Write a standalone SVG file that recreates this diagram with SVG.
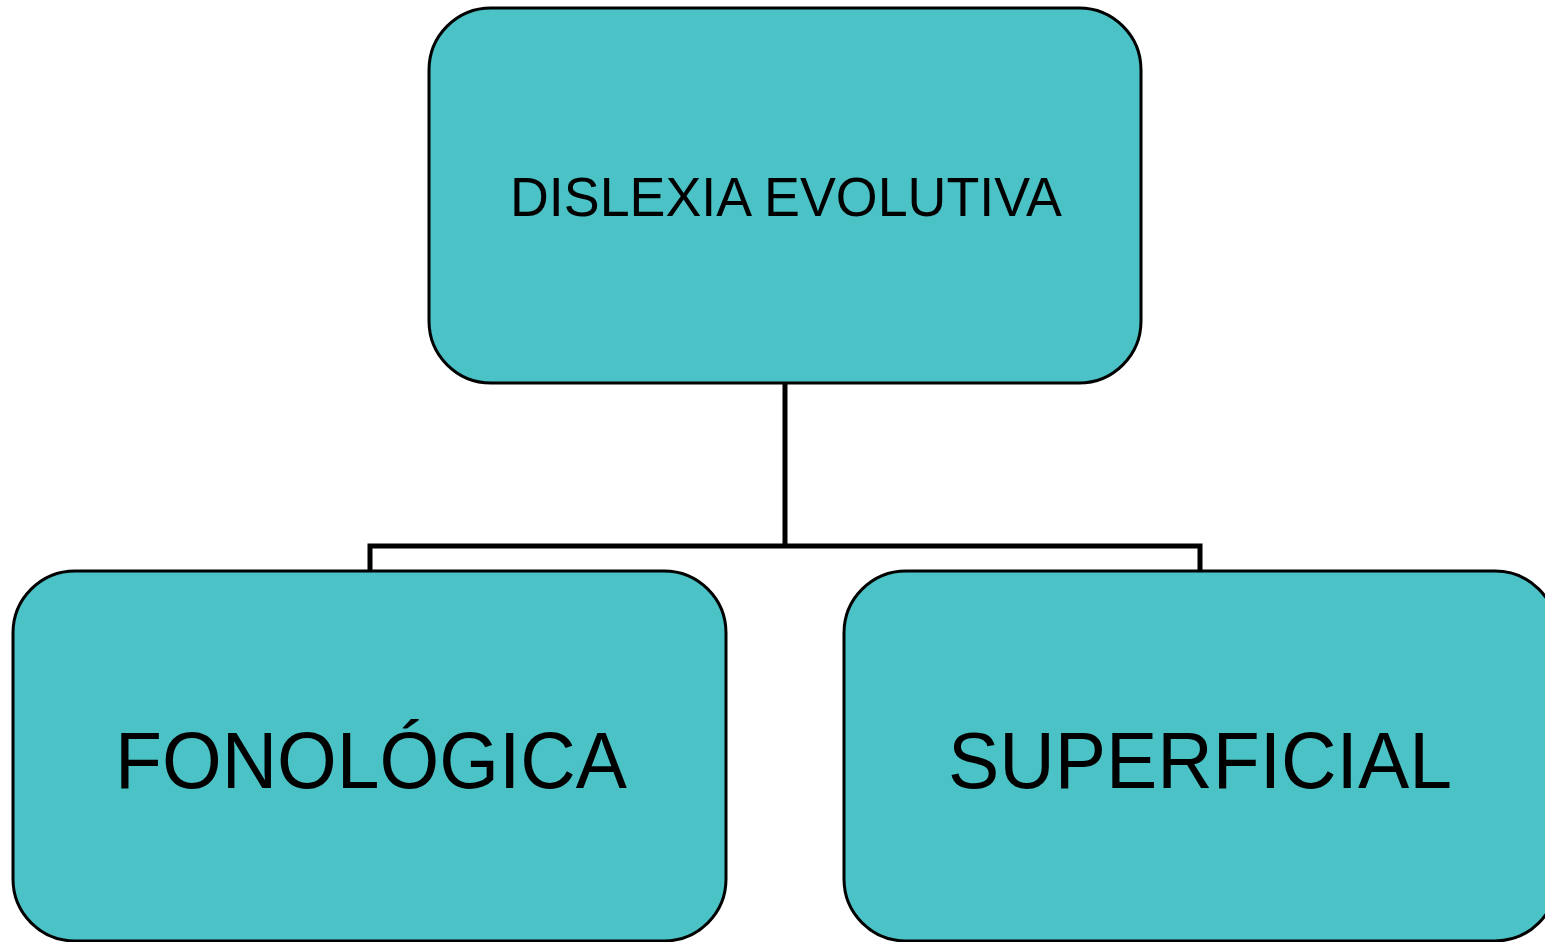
<svg xmlns="http://www.w3.org/2000/svg" width="1545" height="942" viewBox="0 0 1545 942">
<style>
.box{fill:#4AC2C6;stroke:#000;stroke-width:3}
.conn{fill:none;stroke:#000;stroke-width:5}
text{font-family:"Liberation Sans",Arial,sans-serif;fill:#000;text-anchor:middle}
.t1{font-size:55px}
.t2{font-size:80px}
</style>
<rect width="1545" height="942" fill="#fff"/>
<g id="connectors">
<path class="conn" d="M785 383 V546 M370 571 V546 H1200 V571"/>
</g>
<g id="node-top">
<rect class="box" x="429" y="8" width="712" height="375" rx="62" ry="62"/>
<text class="t1" x="786" y="216" textLength="552" lengthAdjust="spacingAndGlyphs">DISLEXIA EVOLUTIVA</text>
</g>
<g id="node-fonologica">
<rect class="box" x="13" y="571" width="713" height="370" rx="62" ry="62"/>
<text class="t2" x="371" y="788" textLength="512" lengthAdjust="spacingAndGlyphs">FONOLÓGICA</text>
</g>
<g id="node-superficial">
<rect class="box" x="844" y="571" width="713" height="370" rx="62" ry="62"/>
<text class="t2" x="1200" y="788" textLength="504" lengthAdjust="spacingAndGlyphs">SUPERFICIAL</text>
</g>
</svg>
